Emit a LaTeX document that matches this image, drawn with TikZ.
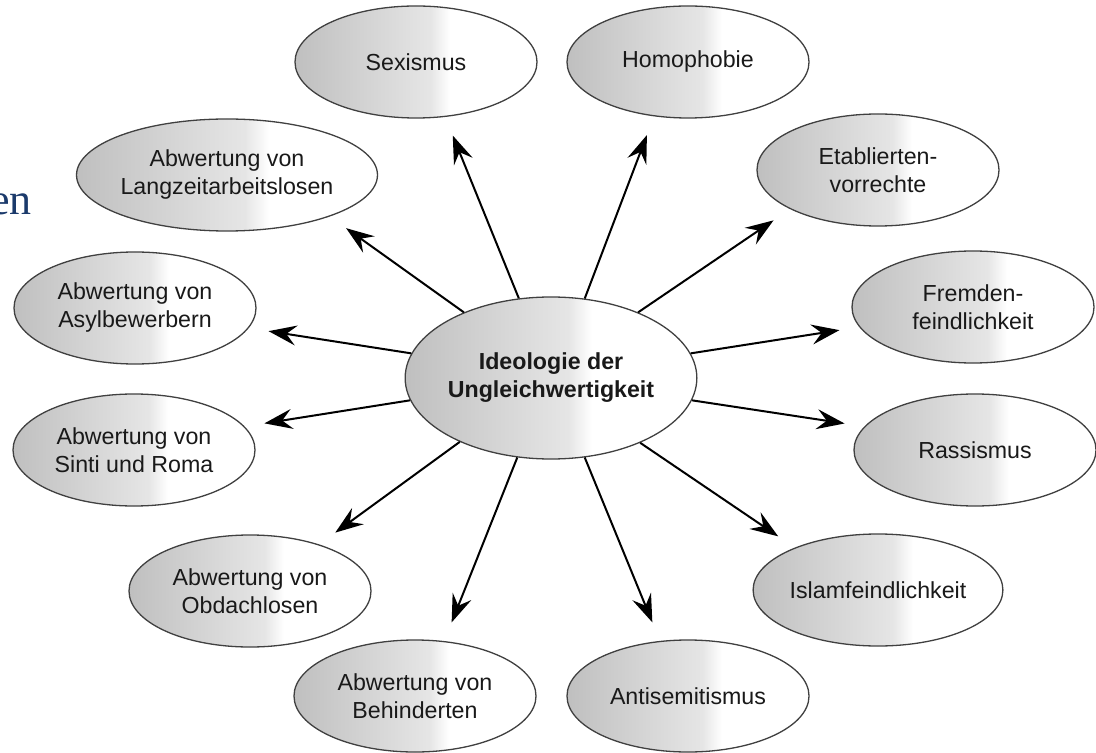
\documentclass[tikz,border=0pt]{standalone}
\usepackage{fontspec}
\setmainfont{Liberation Sans}
\newfontfamily\titleserif{Liberation Serif}
\usepackage{tikz}
\usetikzlibrary{arrows.meta}
\usetikzlibrary{shapes.geometric}
\definecolor{titleblue}{HTML}{1B3A6B}
\pgfdeclarehorizontalshading{ovalshade}{100bp}{color(0bp)=(gray!50); color(25bp)=(gray!50); color(53bp)=(gray!20); color(57bp)=(white); color(100bp)=(white)}

\begin{document}
\begin{tikzpicture}
    [x=0.5pt, y=-0.5pt,
    oval/.style={ellipse, draw=black!75, line width=0.65pt, shading=ovalshade,
      minimum width=121pt, minimum height=56pt, inner sep=0pt, align=center,
      text=black!90, font=\fontsize{11.6}{14}\selectfont},
    core/.style={oval, minimum width=127.5pt, minimum height=81pt,
      font=\fontsize{11.6}{14}\selectfont\bfseries},
    arr/.style={-{Stealth[length=14pt, width=10pt, inset=5pt]},
      line width=1pt, shorten >=10pt}]
  \useasboundingbox (0,0) rectangle (1096,753);
  \node [text=titleblue, font=\titleserif\fontsize{22}{26}\selectfont,
    anchor=base east, inner sep=0pt] (en) at (32,215) {en};
  \node [core] (ideo) at (551,378) {Ideologie der\\Ungleichwertigkeit};
  % outer ring, clockwise from the top
  \node [oval] (sex) at (416,62) {Sexismus};
  \node [oval] (homo) at (688,62) {Homophobie};
  \node [oval] (etab) at (878,170) {Etablierten-\\vorrechte};
  \node [oval] (fremd) at (973,307) {Fremden-\\feindlichkeit};
  \node [oval] (rass) at (975,450) {Rassismus};
  \node [oval] (islam) at (878,590) {Islamfeindlichkeit};
  \node [oval] (anti) at (688,696) {Antisemitismus};
  \node [oval] (behind) at (415,696) {Abwertung von\\Behinderten};
  \node [oval] (obdach) at (250,591) {Abwertung von\\Obdachlosen};
  \node [oval] (sinti) at (134,450) {Abwertung von\\Sinti und Roma};
  \node [oval] (asyl) at (135,308) {Abwertung von\\Asylbewerbern};
  \node [oval] (langz) at (227,175) {Abwertung von\\Langzeitarbeitslosen};
  % arrows
  \draw [arr] (ideo.112) -- (sex.-62);
  \draw [arr] (ideo.67) -- (homo.-122);
  \draw [arr] (ideo.37) -- (etab.204);
  \draw [arr] (ideo.10) -- (fremd.190);
  \draw [arr] (ideo.-9) -- (rass.168);
  \draw [arr] (ideo.-36) -- (islam.153);
  \draw [arr] (ideo.-67) -- (anti.117);
  \draw [arr] (ideo.-113) -- (behind.62);
  \draw [arr] (ideo.215) -- (obdach.34);
  \draw [arr] (ideo.189) -- (sinti.12);
  \draw [arr] (ideo.170) -- (asyl.-10);
  \draw [arr] (ideo.143) -- (langz.-22);
\end{tikzpicture}
\end{document}
